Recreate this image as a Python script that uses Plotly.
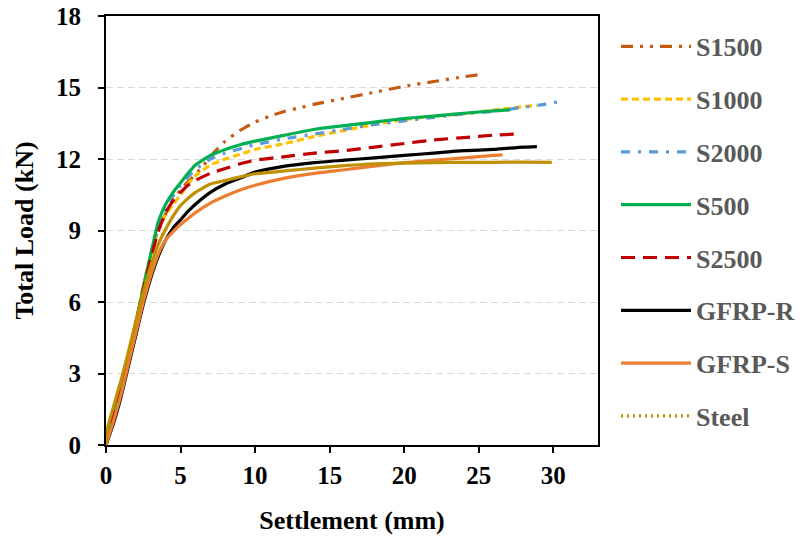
import plotly.graph_objects as go

# ---------------- data ----------------
s1500_x = [0, 0.5, 1, 1.5, 2, 2.5, 3, 3.5, 4, 4.5, 5, 5.5, 6, 6.5, 7, 7.5, 8, 9, 10, 11, 12, 13, 14, 16, 18, 20, 22, 24, 25.2]
s1500_y = [0, 1.2, 2.4, 3.7, 5.1, 6.6, 8.0, 9.0, 9.7, 10.25, 10.7, 11.05, 11.35, 11.7, 12.1, 12.45, 12.75, 13.2, 13.55, 13.8, 14.0, 14.15, 14.3, 14.55, 14.8, 15.05, 15.25, 15.45, 15.55]

s1000_x = [0, 0.5, 1, 1.5, 2, 2.5, 3, 3.5, 4, 4.5, 5, 5.5, 6, 7, 8, 9, 10, 12, 14, 16, 18, 20, 22, 24, 26, 28, 28.9]
s1000_y = [0, 1.2, 2.4, 3.7, 5.1, 6.6, 8.0, 9.0, 9.65, 10.1, 10.5, 10.95, 11.3, 11.75, 12.0, 12.2, 12.4, 12.65, 12.95, 13.2, 13.45, 13.65, 13.8, 13.9, 14.05, 14.2, 14.25]

s2000_x = [0, 0.5, 1, 1.5, 2, 2.5, 3, 3.5, 4, 4.5, 5, 5.5, 6, 7, 8, 10, 12, 14, 16, 18, 20, 22, 24, 26, 28, 29.5, 30.5]
s2000_y = [0, 1.2, 2.4, 3.7, 5.1, 6.6, 8.0, 9.2, 9.9, 10.45, 10.9, 11.25, 11.55, 12.0, 12.25, 12.6, 12.85, 13.05, 13.25, 13.45, 13.6, 13.75, 13.9, 14.0, 14.17, 14.3, 14.42]

s500_x = [0, 0.5, 1.0, 1.5, 2.0, 2.5, 3.0, 3.5, 4.0, 4.5, 5.0, 5.5, 6.0, 7, 8, 9, 10, 12, 14, 16, 18, 20, 22, 24, 26, 27.1]
s500_y = [0, 1.2, 2.4, 3.7, 5.1, 6.6, 8.0, 9.35, 10.1, 10.6, 11.0, 11.4, 11.75, 12.15, 12.4, 12.6, 12.75, 13.0, 13.25, 13.4, 13.55, 13.7, 13.8, 13.92, 14.02, 14.06]

s2500_x = [0, 0.5, 1, 1.5, 2, 2.5, 3, 3.5, 4, 4.5, 5, 5.5, 6, 7, 8, 9, 10, 12, 14, 16, 18, 20, 22, 24, 26, 27.7]
s2500_y = [0, 1.2, 2.4, 3.7, 5.1, 6.5, 7.8, 8.95, 9.75, 10.25, 10.6, 10.9, 11.1, 11.4, 11.6, 11.8, 11.95, 12.1, 12.25, 12.35, 12.5, 12.65, 12.8, 12.9, 13.0, 13.05]

gfrpr_x = [0, 0.5, 1, 1.5, 2, 2.5, 3, 3.5, 4, 4.5, 5, 5.5, 6, 7, 8, 9, 10, 12, 14, 16, 18, 20, 22, 24, 26, 28, 28.9]
gfrpr_y = [0, 0.9, 2.0, 3.3, 4.6, 5.9, 7.0, 7.9, 8.6, 9.1, 9.45, 9.8, 10.1, 10.6, 10.95, 11.2, 11.45, 11.7, 11.85, 11.95, 12.05, 12.15, 12.25, 12.35, 12.4, 12.5, 12.52]

gfrps_x = [0, 0.5, 1, 1.5, 2, 2.5, 3, 3.5, 4, 4.5, 5, 5.5, 6, 7, 8, 9, 10, 12, 14, 16, 18, 20, 22, 24, 26, 26.6]
gfrps_y = [0, 1.0, 2.1, 3.4, 4.7, 6.0, 7.1, 8.0, 8.6, 8.95, 9.25, 9.5, 9.75, 10.15, 10.45, 10.7, 10.9, 11.2, 11.4, 11.55, 11.7, 11.85, 11.95, 12.05, 12.15, 12.17]

steel_x = [0, 0.1, 0.5, 1, 1.5, 2, 2.5, 3, 3.5, 4, 4.5, 5, 5.5, 6, 7, 8, 9, 10, 12, 14, 16, 18, 20, 22, 24, 26, 28, 29.9]
steel_y = [0, 0.7, 1.6, 2.7, 3.9, 5.2, 6.4, 7.5, 8.4, 9.05, 9.6, 10.05, 10.35, 10.6, 10.95, 11.1, 11.25, 11.38, 11.5, 11.62, 11.72, 11.8, 11.83, 11.85, 11.86, 11.86, 11.87, 11.86]

x_ticks = [0, 5, 10, 15, 20, 25, 30]
y_ticks = [0, 3, 6, 9, 12, 15, 18]

# ---------------- styles ----------------
FONT = "Liberation Serif, Times New Roman, serif"
series = [
    ("S1500", s1500_x, s1500_y, "#C55A11", "12px,7px,3px,7px,3px,7px", None),
    ("S1000", s1000_x, s1000_y, "#FFC000", "7px,4px", None),
    ("S2000", s2000_x, s2000_y, "#5B9BD5", "9px,8px,3px,8px", None),
    ("S500", s500_x, s500_y, "#00B050", "solid", None),
    ("S2500", s2500_x, s2500_y, "#C00000", "14px,8px", None),
    ("GFRP-R", gfrpr_x, gfrpr_y, "#000000", "solid", None),
    ("GFRP-S", gfrps_x, gfrps_y, "#ED7D31", "solid", None),
    ("Steel", steel_x, steel_y, "#BF9000", "solid", "2px,4px"),
]

fig = go.Figure()
for name, xs, ys, col, dash, legdash in series:
    fig.add_trace(go.Scatter(
        x=xs, y=ys, mode="lines", name=name,
        line=dict(color=col, width=3.2, dash=dash, shape="spline", smoothing=0.5),
        showlegend=(legdash is None), legendgroup=name,
    ))
    if legdash is not None:
        fig.add_trace(go.Scatter(
            x=[None], y=[None], mode="lines", name=name,
            line=dict(color=col, width=3.2, dash=legdash),
            showlegend=True, legendgroup=name,
        ))

axis_common = dict(
    showline=True, linecolor="black", linewidth=2, mirror=True,
    ticks="outside", ticklen=6, tickwidth=1.5, tickcolor="black",
    tickfont=dict(family=FONT, size=25, color="black", weight="bold"),
    zeroline=False, automargin=False,
)

fig.update_layout(
    width=800, height=545,
    margin=dict(l=106, r=202, t=16, b=100),
    paper_bgcolor="white", plot_bgcolor="white",
    font=dict(family=FONT),
    xaxis=dict(range=[0, 33], tickvals=x_ticks, showgrid=False,
               title=dict(text="Settlement (mm)", standoff=23,
                          font=dict(family=FONT, size=26, color="black", weight="bold")),
               ticklabelstandoff=1, **axis_common),
    yaxis=dict(range=[0, 18], tickvals=y_ticks, showgrid=True,
               gridcolor="#D9D9D9", gridwidth=1, griddash="7px,4px",
               title=dict(text="Total Load (kN)", standoff=15,
                          font=dict(family=FONT, size=26, color="black", weight="bold")),
               ticklabelstandoff=12, **axis_common),
    legend=dict(xref="container", yref="container",
                x=0.77, y=0.958, xanchor="left", yanchor="top",
                maxheight=540,
                font=dict(family=FONT, size=26, color="#595959", weight="bold"),
                tracegroupgap=16, itemwidth=70, bgcolor="rgba(0,0,0,0)",
                traceorder="grouped"),
    showlegend=True,
)

fig.write_html("out.html", config={"displayModeBar": False},
               post_script="document.body.style.margin='0px';")
